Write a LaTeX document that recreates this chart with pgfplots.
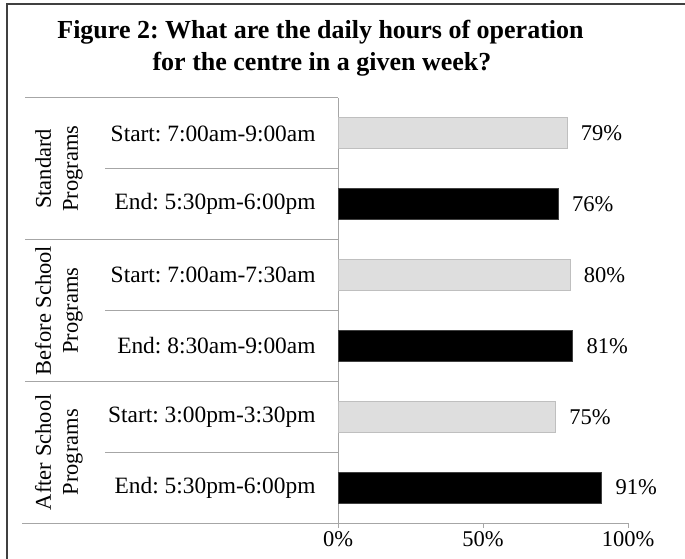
\documentclass[border=0pt]{standalone}
\usepackage{pgfplots}
\pgfplotsset{compat=1.18}
\usepackage{fontspec}
\setmainfont{Liberation Serif}
\definecolor{lightbar}{HTML}{DEDEDE}
\definecolor{lightedge}{HTML}{BFBFBF}
\definecolor{axisgray}{HTML}{A6A6A6}
\frenchspacing
\begin{document}
\begin{tikzpicture}
\useasboundingbox (0pt,0pt) rectangle (685pt,558pt);
\begin{scope}
\clip (0pt,0pt) rectangle (685pt,558pt);
\draw[line width=1.3pt, color=black!75] (7pt,-3pt) rectangle (690pt,554pt);
\end{scope}
\node[font=\fontsize{26}{31}\selectfont\bfseries, anchor=base] at (320.5pt,519pt) {Figure 2: What are the daily hours of operation};
\node[font=\fontsize{26}{31}\selectfont\bfseries, anchor=base] at (322pt,487pt) {for the centre in a given week?};
\begin{axis}[
  at={(338pt,35pt)}, anchor=south west, scale only axis,
  width=290pt, height=425pt,
  xbar, bar width=31pt, bar shift=0pt,
  xmin=0, xmax=100, ymin=-0.5, ymax=5.5, y dir=reverse,
  axis x line*=bottom, axis y line*=left,
  axis line style={axisgray, line width=1pt},
  /pgf/number format/assume math mode=true,
  xtick={0,50,100}, xticklabels={0\%,50\%,100\%},
  tick align=outside, major tick length=5pt,
  xtick style={axisgray, line width=1pt},
  ytick={0,1,2,3,4,5},
  yticklabels={Start: 7:00am-9:00am, End: 5:30pm-6:00pm, Start: 7:00am-7:30am, End: 8:30am-9:00am, Start: 3:00pm-3:30pm, End: 5:30pm-6:00pm},
  ytick style={draw=none},
  yticklabel style={font=\fontsize{23.4}{26}\selectfont, anchor=east, xshift=-14pt},
  xticklabel style={font=\fontsize{22.5}{26}\selectfont},
  nodes near coords={\pgfmathprintnumber{\pgfplotspointmeta}\%},
  every node near coord/.append style={font=\fontsize{22.5}{26}\selectfont, anchor=west, xshift=10pt, black},
  clip=false,
]
\addplot[fill=lightbar, draw=lightedge, line width=1pt] coordinates {(79,0) (80,2) (75,4)};
\addplot[fill=black, draw=black!75, line width=1pt] coordinates {(76,1) (81,3) (91,5)};
\end{axis}
\begin{scope}[x=1pt, y=1pt, axisgray, line width=1pt]
\draw (22,35) -- (338,35);
\draw (25,460) -- (338,460);
\draw (105,389.2) -- (338,389.2);
\draw (25,318.3) -- (338,318.3);
\draw (105,247.5) -- (338,247.5);
\draw (25,176.7) -- (338,176.7);
\draw (105,105.8) -- (338,105.8);
\end{scope}
\begin{scope}[x=1pt, y=1pt, font=\fontsize{22.5}{27}\selectfont]
\node[rotate=90, align=center] at (59,389.2) {Standard\\Programs};
\node[rotate=90, align=center] at (59,247.5) {Before School\\Programs};
\node[rotate=90, align=center] at (59,105.8) {After School\\Programs};
\end{scope}
\end{tikzpicture}
\end{document}
